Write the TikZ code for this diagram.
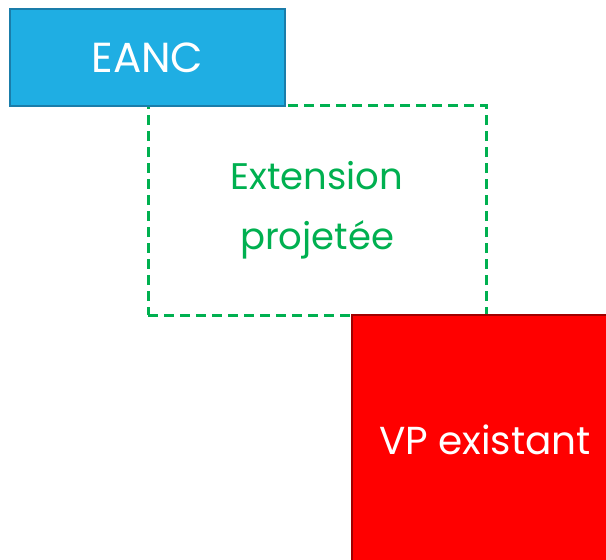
\documentclass[tikz,border=0pt]{standalone}
\usepackage{fontspec}
\setmainfont{Poppins}
\usetikzlibrary{positioning}
\usepackage{xcolor}

\definecolor{eancblue}{HTML}{1FAEE3}
\definecolor{eancedge}{HTML}{1A7DAA}
\definecolor{extgreen}{HTML}{00B050}
\definecolor{vpedge}{HTML}{A00000}

\tikzset{
  block/.style={rectangle,line width=2pt,inner sep=0pt,align=center},
}

\begin{document}
\begin{tikzpicture}[x=1pt,y=-1pt]

  \useasboundingbox (0,0) rectangle (606,560);
  \clip (0,0) rectangle (606,560);

  % \draw[step=50,thin,gray] (0,0) grid (606,560);
  \draw (317,210) node (ext) [block,draw=extgreen,line width=3pt,dash pattern=on 10pt off 6pt,
    minimum width=338pt,minimum height=210pt,text=extgreen,font=\fontsize{37}{60}\selectfont] {Extension\\projetée};

  \draw (147.5,57.5) node (eanc) [block,draw=eancedge,fill=eancblue,minimum width=275pt,minimum height=97pt,
    text=white,font=\fontsize{42}{40}\selectfont] {EANC};

  \draw (485,440) node (vp) [block,draw=vpedge,fill=red,minimum width=266pt,minimum height=250pt,
    text=white,font=\fontsize{39}{40}\selectfont] {VP existant};

\end{tikzpicture}
\end{document}
